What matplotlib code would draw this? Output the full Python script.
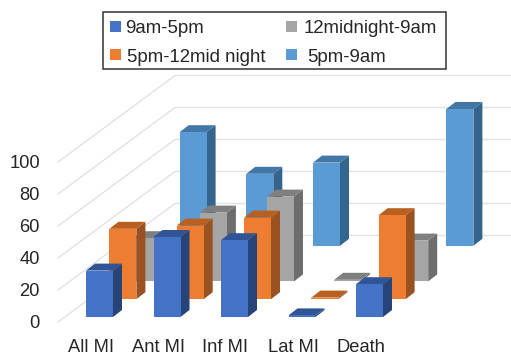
import matplotlib
matplotlib.use("Agg")
import matplotlib.pyplot as plt
from matplotlib.patches import Polygon, Rectangle

plt.rcParams['font.family'] = ['Liberation Sans', 'DejaVu Sans']

categories = ["All MI", "Ant MI", "Inf MI", "Lat MI", "Death"]
series_names = ["9am-5pm", "5pm-12mid night", "12midnight-9am", "5pm-9am"]
morning = [29, 50, 48, 1, 20.5]
evening = [44, 46, 51, 1, 52.5]
night = [27, 43, 53, 1, 25.5]
overnight = [71, 45, 52, None, 85.5]
value_ticks = [0, 20, 40, 60, 80, 100]

# depth slot of each series, slot 3 is empty in the original
depths = [0, 1, 2, 4]
all_values = [morning, evening, night, overnight]

front_colors = ["#4472C4", "#ED7D31", "#A5A5A5", "#5B9BD5"]
side_colors = ["#264478", "#9A5223", "#6D6D6D", "#33658F"]
top_colors = ["#2F5597", "#B9601F", "#7F7F7F", "#4377A5"]

W, H = 511, 356
fig = plt.figure(figsize=(W / 100, H / 100), dpi=100)
ax = fig.add_axes([0, 0, 1, 1])
ax.set_xlim(0, W)
ax.set_ylim(H, 0)
ax.axis("off")

# oblique projection of (category, depth, value) to figure pixels
def project(cat, depth, value):
    return (86 + (67.5 - 0.2 * depth) * cat + 23.4 * depth, 317 - 17.8 * depth - 1.6 * value)

bar_w = 27
bar_dx, bar_dy = 9, -7

# walls
for v in value_ticks:
    y = 322 - 1.6 * v
    ax.plot([58, 175, W], [y, y - 86.5, y - 86.5], color="#E2E2E2", lw=1.0, zorder=1)
    ax.text(40, y + 2, str(v), ha="right", va="center", fontsize=13.2, color="#262626")

# back to front
z = 2
for s in [3, 2, 1, 0]:
    for c, val in enumerate(all_values[s]):
        if val is None:
            continue
        x0, y0 = project(c, depths[s], 0)
        x1, y1 = project(c, depths[s], val)
        front = [(x0, y0), (x0 + bar_w, y0), (x0 + bar_w, y1), (x0, y1)]
        side = [(x0 + bar_w, y0), (x0 + bar_w + bar_dx, y0 + bar_dy),
                (x0 + bar_w + bar_dx, y1 + bar_dy), (x0 + bar_w, y1)]
        top = [(x0, y1), (x0 + bar_w, y1), (x0 + bar_w + bar_dx, y1 + bar_dy),
               (x0 + bar_dx, y1 + bar_dy)]
        ax.add_patch(Polygon(side, color=side_colors[s], lw=0, zorder=z))
        ax.add_patch(Polygon(top, color=top_colors[s], lw=0, zorder=z))
        ax.add_patch(Polygon(front, color=front_colors[s], lw=0, zorder=z))
        z += 1

label_x = [91, 158, 225, 293, 361]
for c, name in enumerate(categories):
    ax.text(label_x[c], 347.5, name, ha="center", va="center", fontsize=13.2, color="#262626")

# legend box, hand placed like the original (labels are not quite aligned there)
ax.add_patch(Rectangle((103, 12), 343, 57, fc="white", ec="#333333", lw=1.1, zorder=100))
swatch_pos = [(110, 21), (110, 49), (286, 21), (286, 49)]
text_pos = [(125, 33), (127, 62), (304, 33), (307, 62)]
for s in range(4):
    ax.add_patch(Rectangle(swatch_pos[s], 11, 11, fc=front_colors[s], lw=0, zorder=101))
    ax.text(text_pos[s][0], text_pos[s][1], series_names[s], ha="left", va="baseline",
            fontsize=13.4, color="#262626", zorder=101)

fig.savefig("out.png", dpi=100)
